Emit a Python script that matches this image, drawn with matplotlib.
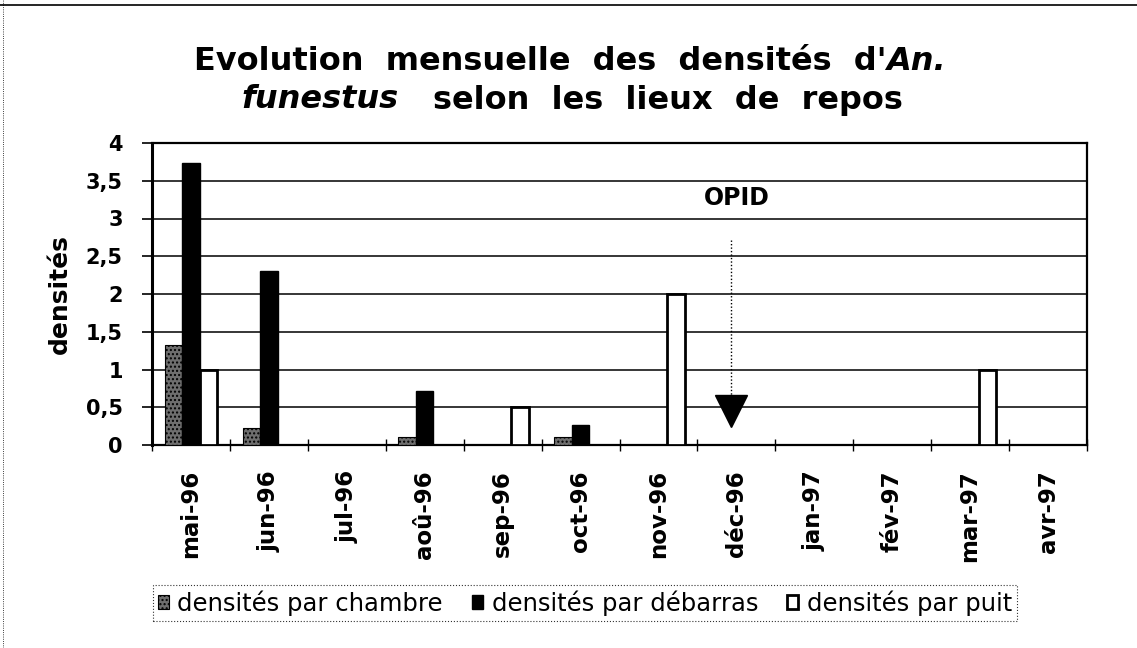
import matplotlib
matplotlib.use("Agg")
import matplotlib.pyplot as plt
import numpy as np

months = ["mai-96", "jun-96", "jul-96", "aoû-96", "sep-96", "oct-96",
          "nov-96", "déc-96", "jan-97", "fév-97", "mar-97", "avr-97"]
chambre = [1.32, 0.22, 0, 0.1, 0, 0.1, 0, 0, 0, 0, 0, 0]
debarras = [3.73, 2.3, 0, 0.72, 0, 0.27, 0, 0, 0, 0, 0, 0]
puit = [1.0, 0, 0, 0, 0.5, 0, 2.0, 0, 0, 0, 1.0, 0]
series_names = ["densités par chambre", "densités par débarras", "densités par puit"]
y_ticks = [0, 0.5, 1, 1.5, 2, 2.5, 3, 3.5, 4]
y_labels = ["0", "0,5", "1", "1,5", "2", "2,5", "3", "3,5", "4"]

# OPID marker (month position, arrow top, arrow tip)
opid_month = 6.93
opid_top = 2.72
opid_tip = 0.45

W, H = 1137, 648
fig = plt.figure(figsize=(W / 100, H / 100), dpi=100)
ax = fig.add_axes([152 / W, 1 - 445 / H, (1087 - 152) / W, (445 - 143) / H])

x = np.arange(len(months))
bw = 0.225
ax.bar(x - bw, chambre, bw, facecolor="#6e6e6e", edgecolor="black",
       hatch="....", linewidth=0.8, label=series_names[0], zorder=3)
ax.bar(x, debarras, bw, facecolor="black", edgecolor="black",
       label=series_names[1], zorder=3)
ax.bar(x + bw, puit, bw, facecolor="white", edgecolor="black",
       linewidth=2, label=series_names[2], zorder=3)

ax.set_xlim(-0.5, len(months) - 0.5)
ax.set_ylim(0, 4)
ax.set_yticks(y_ticks)
ax.set_yticklabels(y_labels, fontsize=15, fontweight="bold", family="DejaVu Sans")
ax.yaxis.grid(True, color="black", linewidth=1.1)
ax.set_axisbelow(True)
ax.tick_params(axis="y", direction="out", length=7, width=1.2, pad=14)

ax.set_xticks(x)
ax.set_xticklabels(months, rotation=90, fontsize=16.5, fontweight="bold",
                   family="DejaVu Sans")
ax.tick_params(axis="x", which="major", length=0, pad=18)
ax.set_xticks(np.arange(-0.5, len(months), 1), minor=True)
ax.tick_params(axis="x", which="minor", direction="inout", length=8, width=1)

for s in ax.spines.values():
    s.set_linewidth(1.6)
    s.set_color("black")
ax.spines["left"].set_linewidth(2.2)

ax.set_ylabel("densités", fontsize=18, fontweight="bold", labelpad=10)

# OPID annotation
ax.plot([opid_month, opid_month], [opid_top, opid_tip + 0.2], color="black",
        linestyle=(0, (1, 1.5)), linewidth=1, zorder=4)
ax.plot([opid_month], [opid_tip], marker="v", markersize=23, color="black",
        zorder=5)
ax.text(7.0, 3.27, "OPID", ha="center", va="center", fontsize=17,
        fontweight="bold")

# title with italic species name
renderer = fig.canvas.get_renderer()


def draw_line(pieces, yc, xc, size):
    texts = []
    for s, style, gap in pieces:
        t = fig.text(0, yc, s, fontsize=size, fontweight="bold", style=style,
                     va="center", ha="left")
        texts.append((t, gap))
    widths = [t.get_window_extent(renderer).width for t, _ in texts]
    total = sum(widths) + sum(g for _, g in texts)
    pos = xc - total / 2
    for (t, gap), w in zip(texts, widths):
        pos += gap
        t.set_x(pos / W)
        pos += w


draw_line([("Evolution  mensuelle  des  densités  d'", "normal", 0),
           ("An.", "italic", 0)], 1 - 62 / H, 570, 23)
draw_line([("funestus", "italic", 0),
           ("selon  les  lieux  de  repos", "normal", 34)], 1 - 100 / H, 572, 23)

leg = fig.legend(loc="center", bbox_to_anchor=(585 / W, 1 - 603 / H), ncol=3,
                 frameon=True, fancybox=False, handlelength=0.45, handleheight=0.5,
                 handletextpad=0.35, columnspacing=1.2, borderpad=0.2,
                 borderaxespad=0,
                 prop={"family": "DejaVu Sans", "size": 17.5})
leg.get_frame().set_edgecolor("black")
leg.get_frame().set_linestyle(":")
leg.get_frame().set_linewidth(0.8)

# scan page border
fig.add_artist(plt.Line2D([0, 1], [1 - 5 / H, 1 - 5 / H], color="black",
                          linewidth=1.2, transform=fig.transFigure))
fig.add_artist(plt.Line2D([3 / W, 3 / W], [0, 1], color="black",
                          linewidth=0.6, linestyle=":", transform=fig.transFigure))

fig.savefig("out.png", dpi=100)
